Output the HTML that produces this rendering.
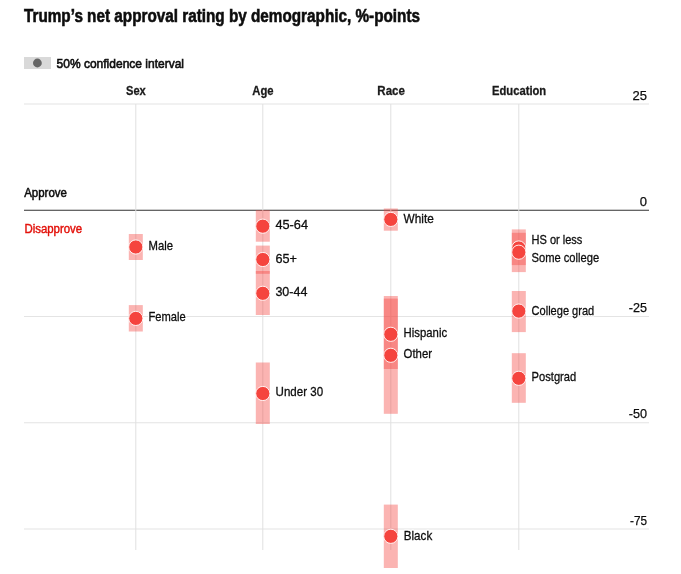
<!DOCTYPE html><html><head><meta charset="utf-8"><title>Trump net approval by demographic</title>
<style>html,body{margin:0;padding:0;background:#fff;overflow:hidden;}svg{display:block;}text{font-family:'Liberation Sans', Arial, sans-serif;}.h{fill:#fff;stroke:#fff;stroke-width:3;stroke-linejoin:round;}.l{fill:#0d0d0d;stroke:#0d0d0d;stroke-width:0.3;}</style></head><body>
<svg width="681" height="574" viewBox="0 0 681 574">
<rect width="681" height="574" fill="#fff"/>
<text x="24" y="21.9" font-size="18.7" font-weight="bold" fill="#0d0d0d" stroke="#0d0d0d" stroke-width="0.6" textLength="396" lengthAdjust="spacingAndGlyphs">Trump’s net approval rating by demographic, %-points</text>
<rect x="24" y="57" width="27" height="12" fill="#d9d9d9"/>
<circle cx="37.4" cy="63" r="4.4" fill="#666"/>
<text x="56.6" y="68" font-size="13" fill="#0d0d0d" stroke="#0d0d0d" stroke-width="0.6" textLength="127.4" lengthAdjust="spacingAndGlyphs">50% confidence interval</text>
<text x="135.9" y="94.5" font-size="12.8" font-weight="bold" fill="#1a1a1a" stroke="#1a1a1a" stroke-width="0.3" text-anchor="middle" textLength="19.8" lengthAdjust="spacingAndGlyphs">Sex</text>
<text x="262.9" y="94.5" font-size="12.8" font-weight="bold" fill="#1a1a1a" stroke="#1a1a1a" stroke-width="0.3" text-anchor="middle" textLength="21.3" lengthAdjust="spacingAndGlyphs">Age</text>
<text x="391.1" y="94.5" font-size="12.8" font-weight="bold" fill="#1a1a1a" stroke="#1a1a1a" stroke-width="0.3" text-anchor="middle" textLength="27.6" lengthAdjust="spacingAndGlyphs">Race</text>
<text x="519.1" y="94.5" font-size="12.8" font-weight="bold" fill="#1a1a1a" stroke="#1a1a1a" stroke-width="0.3" text-anchor="middle" textLength="54.2" lengthAdjust="spacingAndGlyphs">Education</text>
<rect x="24" y="103.5" width="625" height="1" fill="#e4e4e4"/>
<rect x="24" y="316.0" width="625" height="1" fill="#e4e4e4"/>
<rect x="24" y="422.25" width="625" height="1" fill="#e4e4e4"/>
<rect x="24" y="528.5" width="625" height="1" fill="#e4e4e4"/>
<rect x="24" y="209.75" width="625" height="1" fill="#333333"/>
<rect x="135.3" y="104" width="1" height="446" fill="#e0e0e0"/>
<rect x="262.3" y="104" width="1" height="446" fill="#e0e0e0"/>
<rect x="390.3" y="104" width="1" height="446" fill="#e0e0e0"/>
<rect x="518.3" y="104" width="1" height="446" fill="#e0e0e0"/>
<text x="647" y="99.7" font-size="13" fill="#0d0d0d" stroke="#0d0d0d" stroke-width="0.25" text-anchor="end">25</text>
<text x="647" y="205.95" font-size="13" fill="#0d0d0d" stroke="#0d0d0d" stroke-width="0.25" text-anchor="end">0</text>
<text x="647" y="312.2" font-size="13" fill="#0d0d0d" stroke="#0d0d0d" stroke-width="0.25" text-anchor="end" textLength="18.2" lengthAdjust="spacingAndGlyphs">-25</text>
<text x="647" y="418.45" font-size="13" fill="#0d0d0d" stroke="#0d0d0d" stroke-width="0.25" text-anchor="end" textLength="18.3" lengthAdjust="spacingAndGlyphs">-50</text>
<text x="647" y="524.7" font-size="13" fill="#0d0d0d" stroke="#0d0d0d" stroke-width="0.25" text-anchor="end" textLength="17.0" lengthAdjust="spacingAndGlyphs">-75</text>
<text x="24.2" y="196.9" font-size="13.3" fill="#0d0d0d" stroke="#0d0d0d" stroke-width="0.55" textLength="42.7" lengthAdjust="spacingAndGlyphs">Approve</text>
<text x="24.4" y="232.7" font-size="13" fill="#e3120b" stroke="#e3120b" stroke-width="0.45" textLength="57.8" lengthAdjust="spacingAndGlyphs">Disapprove</text>
<rect x="128.8" y="234.0" width="14" height="26.0" fill="#f5443e" fill-opacity="0.4"/>
<rect x="128.8" y="305.1" width="14" height="26.4" fill="#f5443e" fill-opacity="0.4"/>
<rect x="255.8" y="210.1" width="14" height="31.6" fill="#f5443e" fill-opacity="0.4"/>
<rect x="255.8" y="245.6" width="14" height="28.2" fill="#f5443e" fill-opacity="0.4"/>
<rect x="255.8" y="271.0" width="14" height="44.0" fill="#f5443e" fill-opacity="0.4"/>
<rect x="255.8" y="362.5" width="14" height="61.5" fill="#f5443e" fill-opacity="0.4"/>
<rect x="383.8" y="208.5" width="14" height="22.2" fill="#f5443e" fill-opacity="0.4"/>
<rect x="383.8" y="298.6" width="14" height="70.4" fill="#f5443e" fill-opacity="0.4"/>
<rect x="383.8" y="296.0" width="14" height="117.8" fill="#f5443e" fill-opacity="0.4"/>
<rect x="383.8" y="504.6" width="14" height="63.4" fill="#f5443e" fill-opacity="0.4"/>
<rect x="511.8" y="229.4" width="14" height="35.7" fill="#f5443e" fill-opacity="0.4"/>
<rect x="511.8" y="232.8" width="14" height="39.3" fill="#f5443e" fill-opacity="0.4"/>
<rect x="511.8" y="291.0" width="14" height="41.1" fill="#f5443e" fill-opacity="0.4"/>
<rect x="511.8" y="353.2" width="14" height="49.6" fill="#f5443e" fill-opacity="0.4"/>
<circle cx="135.8" cy="247.0" r="7.1" fill="#f5443e" stroke="#fff" stroke-width="0.9"/>
<circle cx="135.8" cy="318.4" r="7.1" fill="#f5443e" stroke="#fff" stroke-width="0.9"/>
<circle cx="262.8" cy="226.2" r="7.1" fill="#f5443e" stroke="#fff" stroke-width="0.9"/>
<circle cx="262.8" cy="259.5" r="7.1" fill="#f5443e" stroke="#fff" stroke-width="0.9"/>
<circle cx="262.8" cy="293.3" r="7.1" fill="#f5443e" stroke="#fff" stroke-width="0.9"/>
<circle cx="262.8" cy="393.5" r="7.1" fill="#f5443e" stroke="#fff" stroke-width="0.9"/>
<circle cx="390.8" cy="219.4" r="7.1" fill="#f5443e" stroke="#fff" stroke-width="0.9"/>
<circle cx="390.8" cy="334.3" r="7.1" fill="#f5443e" stroke="#fff" stroke-width="0.9"/>
<circle cx="390.8" cy="355.3" r="7.1" fill="#f5443e" stroke="#fff" stroke-width="0.9"/>
<circle cx="390.8" cy="536.3" r="7.1" fill="#f5443e" stroke="#fff" stroke-width="0.9"/>
<circle cx="518.8" cy="248.0" r="7.1" fill="#f5443e" stroke="#fff" stroke-width="0.9"/>
<circle cx="518.8" cy="252.2" r="7.1" fill="#f5443e" stroke="#fff" stroke-width="0.9"/>
<circle cx="518.8" cy="311.1" r="7.1" fill="#f5443e" stroke="#fff" stroke-width="0.9"/>
<circle cx="518.8" cy="378.3" r="7.1" fill="#f5443e" stroke="#fff" stroke-width="0.9"/>
<text class="h" x="148.6" y="249.9" font-size="13.3" textLength="24.5" lengthAdjust="spacingAndGlyphs">Male</text>
<text class="h" x="148.4" y="320.9" font-size="13.3" textLength="37.2" lengthAdjust="spacingAndGlyphs">Female</text>
<text class="h" x="275.40000000000003" y="229.2" font-size="13.3" textLength="32.7" lengthAdjust="spacingAndGlyphs">45-64</text>
<text class="h" x="275.40000000000003" y="262.7" font-size="13.3" textLength="21.5" lengthAdjust="spacingAndGlyphs">65+</text>
<text class="h" x="275.40000000000003" y="296.2" font-size="13.3" textLength="32.0" lengthAdjust="spacingAndGlyphs">30-44</text>
<text class="h" x="275.6" y="396.4" font-size="13.3" textLength="47.5" lengthAdjust="spacingAndGlyphs">Under 30</text>
<text class="h" x="403.6" y="222.8" font-size="13.3" textLength="30.200000000000003" lengthAdjust="spacingAndGlyphs">White</text>
<text class="h" x="403.6" y="336.9" font-size="13.3" textLength="43.5" lengthAdjust="spacingAndGlyphs">Hispanic</text>
<text class="h" x="403.6" y="357.9" font-size="13.3" textLength="28.5" lengthAdjust="spacingAndGlyphs">Other</text>
<text class="h" x="403.8" y="540.0" font-size="13.3" textLength="28.400000000000002" lengthAdjust="spacingAndGlyphs">Black</text>
<text class="h" x="531.5" y="244.2" font-size="13.3" textLength="50.9" lengthAdjust="spacingAndGlyphs">HS or less</text>
<text class="h" x="531.5" y="261.9" font-size="13.3" textLength="67.69999999999999" lengthAdjust="spacingAndGlyphs">Some college</text>
<text class="h" x="531.6" y="315.4" font-size="13.3" textLength="62.6" lengthAdjust="spacingAndGlyphs">College grad</text>
<text class="h" x="531.6" y="380.6" font-size="13.3" textLength="44.6" lengthAdjust="spacingAndGlyphs">Postgrad</text>
<text class="l" x="148.6" y="249.9" font-size="13.3" textLength="24.5" lengthAdjust="spacingAndGlyphs">Male</text>
<text class="l" x="148.4" y="320.9" font-size="13.3" textLength="37.2" lengthAdjust="spacingAndGlyphs">Female</text>
<text class="l" x="275.40000000000003" y="229.2" font-size="13.3" textLength="32.7" lengthAdjust="spacingAndGlyphs">45-64</text>
<text class="l" x="275.40000000000003" y="262.7" font-size="13.3" textLength="21.5" lengthAdjust="spacingAndGlyphs">65+</text>
<text class="l" x="275.40000000000003" y="296.2" font-size="13.3" textLength="32.0" lengthAdjust="spacingAndGlyphs">30-44</text>
<text class="l" x="275.6" y="396.4" font-size="13.3" textLength="47.5" lengthAdjust="spacingAndGlyphs">Under 30</text>
<text class="l" x="403.6" y="222.8" font-size="13.3" textLength="30.200000000000003" lengthAdjust="spacingAndGlyphs">White</text>
<text class="l" x="403.6" y="336.9" font-size="13.3" textLength="43.5" lengthAdjust="spacingAndGlyphs">Hispanic</text>
<text class="l" x="403.6" y="357.9" font-size="13.3" textLength="28.5" lengthAdjust="spacingAndGlyphs">Other</text>
<text class="l" x="403.8" y="540.0" font-size="13.3" textLength="28.400000000000002" lengthAdjust="spacingAndGlyphs">Black</text>
<text class="l" x="531.5" y="244.2" font-size="13.3" textLength="50.9" lengthAdjust="spacingAndGlyphs">HS or less</text>
<text class="l" x="531.5" y="261.9" font-size="13.3" textLength="67.69999999999999" lengthAdjust="spacingAndGlyphs">Some college</text>
<text class="l" x="531.6" y="315.4" font-size="13.3" textLength="62.6" lengthAdjust="spacingAndGlyphs">College grad</text>
<text class="l" x="531.6" y="380.6" font-size="13.3" textLength="44.6" lengthAdjust="spacingAndGlyphs">Postgrad</text>
</svg></body></html>
